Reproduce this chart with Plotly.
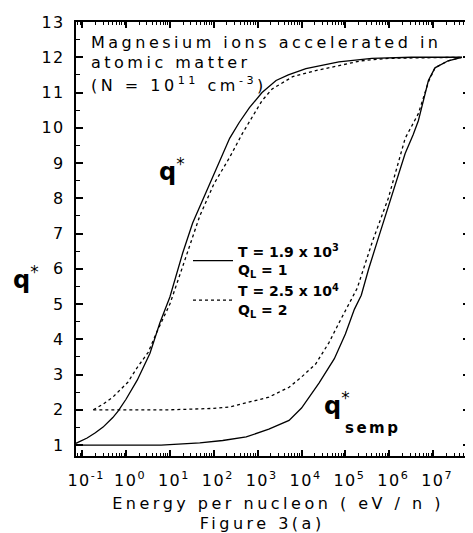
import plotly.graph_objects as go

# ---------------- data ----------------
# q* curves (left family)
energy_qstar_T1 = [0.072, 0.13, 0.2, 0.3, 0.5, 0.66, 1, 1.8, 3.5, 5.9, 10, 19.5, 33, 68, 135,
                   230, 380, 650, 1260, 2630, 5000, 12600, 71000, 4.0e5, 3.2e6, 4.5e7]
q_qstar_T1 = [1.05, 1.2, 1.35, 1.51, 1.78, 1.96, 2.3, 2.84, 3.6, 4.46, 5.2, 6.44, 7.3, 8.2, 9.07,
              9.7, 10.15, 10.57, 11.0, 11.34, 11.5, 11.68, 11.87, 11.97, 12.0, 12.0]

energy_qstar_T2 = [0.18, 0.3, 0.5, 0.8, 1.1, 1.8, 3.2, 5, 10, 20, 48, 100, 230, 450, 1260,
                   2140, 6300, 21000, 2.3e5, 1.0e6, 4.5e7]
q_qstar_T2 = [2.0, 2.16, 2.36, 2.6, 2.78, 3.2, 3.63, 4.2, 5.0, 6.1, 7.5, 8.4, 9.16, 9.84, 10.77,
              11.1, 11.45, 11.62, 11.9, 11.97, 12.0]

# q*_semp curves (right family)
energy_semp_T1 = [0.072, 6.3, 48, 160, 550, 1800, 5200, 1.0e4, 2.5e4, 5.6e4, 1.0e5, 1.6e5, 2.3e5,
                  3.4e5, 5.4e5, 1.1e6, 2.3e6, 3.5e6, 4.6e6, 7.8e6, 1.1e7, 2.2e7, 4.5e7]
q_semp_T1 = [1.0, 1.0, 1.06, 1.13, 1.23, 1.45, 1.7, 2.05, 2.76, 3.45, 4.15, 4.85, 5.25,
             6.0, 6.8, 8.0, 9.27, 9.8, 10.2, 11.34, 11.7, 11.9, 12.0]

energy_semp_T2 = [0.18, 10, 100, 230, 930, 1800, 5200, 1.0e4, 2.1e4, 4.2e4, 7.1e4, 1.07e5, 1.86e5,
                  4.2e5, 9.5e5, 2.3e6, 4.6e6, 7.8e6, 1.1e7, 2.2e7, 4.5e7]
q_semp_T2 = [2.0, 2.0, 2.04, 2.08, 2.27, 2.36, 2.64, 2.93, 3.3, 3.9, 4.46, 4.9, 5.45,
             6.8, 8.0, 9.7, 10.4, 11.3, 11.7, 11.9, 12.0]

legend_T1 = "T = 1.9 x 10<sup>3</sup><br>Q<sub>L</sub> = 1"
legend_T2 = "T = 2.5 x 10<sup>4</sup><br>Q<sub>L</sub> = 2"

x_major = [1e-1, 1e0, 1e1, 1e2, 1e3, 1e4, 1e5, 1e6, 1e7]
x_major_text = ["10<sup>-1</sup>", "10<sup>0</sup>", "10<sup>1</sup>", "10<sup>2</sup>",
                "10<sup>3</sup>", "10<sup>4</sup>", "10<sup>5</sup>", "10<sup>6</sup>",
                "10<sup>7</sup>"]
x_minor = [m * 10.0 ** e for e in range(-2, 8) for m in range(2, 10)]

FONT = "DejaVu Sans"

fig = go.Figure()
solid = dict(color="black", width=1.3)
dotted = dict(color="black", width=1.3, dash="3px,3px")

fig.add_trace(go.Scatter(x=energy_qstar_T1, y=q_qstar_T1, mode="lines", line=solid,
                         name=legend_T1))
fig.add_trace(go.Scatter(x=energy_qstar_T2, y=q_qstar_T2, mode="lines", line=dotted,
                         name=legend_T2))
fig.add_trace(go.Scatter(x=energy_semp_T1, y=q_semp_T1, mode="lines", line=solid,
                         showlegend=False))
fig.add_trace(go.Scatter(x=energy_semp_T2, y=q_semp_T2, mode="lines", line=dotted,
                         showlegend=False))

# the page body has an 8px margin: the figure starts at (8, 8) of the window
W, H = 465, 525
L, R, T, B = 68, 3, 14, 77
pw, ph = W - L - R, H - T - B
FX0, FY1 = 76, 456   # frame left / bottom in window pixels


def px(x):
    return (x - FX0) / pw


def py(y):
    return (FY1 - y) / ph


fig.update_layout(
    width=W, height=H, autosize=False,
    margin=dict(l=L, r=R, t=T, b=B, pad=0),
    paper_bgcolor="white", plot_bgcolor="white",
    font=dict(family=FONT, size=16, color="black"),
    showlegend=True,
    legend=dict(x=px(188), y=py(236), xanchor="left", yanchor="top",
                bgcolor="rgba(0,0,0,0)", itemwidth=40, tracegroupgap=0,
                font=dict(family=FONT, size=14, color="black", weight="bold")),
)

fig.update_xaxes(
    type="log", range=[-1.14, 7.84], automargin=False,
    tickmode="array", tickvals=x_major, ticktext=x_major_text,
    ticks="inside", ticklen=6, tickwidth=1.5, tickcolor="black",
    minor=dict(tickmode="array", tickvals=x_minor, ticks="inside", ticklen=3,
               tickwidth=1, tickcolor="black"),
    showline=True, linewidth=2, linecolor="black", mirror="ticks",
    showgrid=False, zeroline=False,
    tickfont=dict(family=FONT, size=16, color="black"),
    ticklabelshift=4, ticklabelstandoff=9,
)
fig.update_yaxes(
    range=[0.69, 13], tickmode="linear", tick0=0, dtick=1, automargin=False,
    ticks="inside", ticklen=7, tickwidth=1.5, tickcolor="black",
    minor=dict(dtick=0.5, ticks="inside", ticklen=4, tickwidth=1, tickcolor="black"),
    showline=True, linewidth=2, linecolor="black", mirror="ticks",
    showgrid=False, zeroline=False,
    tickfont=dict(family=FONT, size=16, color="black"),
    ticklabelstandoff=6,
)

ann = []
# header text
for txt, yy in [("Magnesium ions accelerated in", 42), ("atomic matter", 62),
                ("(N = 10<sup>11</sup> cm<sup>-3</sup>)", 84)]:
    ann.append(dict(text=txt, x=px(89), y=py(yy), xref="paper", yref="paper",
                    xanchor="left", yanchor="middle", align="left", showarrow=False,
                    font=dict(family=FONT, size=16, color="black")))

# curve labels
ann.append(dict(text="<b>q</b><sup>*</sup>", x=px(157), y=py(170), xref="paper", yref="paper",
                xanchor="left", yanchor="middle", showarrow=False,
                font=dict(family=FONT, size=24, color="black")))
ann.append(dict(text="<b>q</b><sup>*</sup>", x=px(322), y=py(404), xref="paper", yref="paper",
                xanchor="left", yanchor="middle", showarrow=False,
                font=dict(family=FONT, size=24, color="black")))
ann.append(dict(text="<b>semp</b>", x=px(343), y=py(428), xref="paper", yref="paper",
                xanchor="left", yanchor="middle", align="left", showarrow=False,
                font=dict(family=FONT, size=15, color="black")))
# y-axis title
ann.append(dict(text="<b>q</b><sup>*</sup>", x=px(11), y=py(278), xref="paper", yref="paper",
                xanchor="left", yanchor="middle", showarrow=False,
                font=dict(family=FONT, size=24, color="black")))
# x-axis title and caption
ann.append(dict(text="Energy per nucleon ( eV / n )", x=px(278), y=py(503), xref="paper",
                yref="paper", xanchor="center", yanchor="middle", showarrow=False,
                font=dict(family=FONT, size=16, color="black")))
ann.append(dict(text="Figure 3(a)", x=px(262), y=py(523), xref="paper",
                yref="paper", xanchor="center", yanchor="middle", showarrow=False,
                font=dict(family=FONT, size=16, color="black")))

fig.update_layout(annotations=ann)

# the reference typesetting is letter-spaced; reproduce it with CSS letter-spacing
post_js = """
var gd = document.getElementById('{plot_id}');
var anns = gd.querySelectorAll('.annotation');
[0, 1, 2, 7, 8].forEach(function(i){
  if (anns[i]) { anns[i].querySelectorAll('text').forEach(function(t){ t.style.letterSpacing = '3.5px'; }); }
});
if (anns[5]) { anns[5].querySelectorAll('text').forEach(function(t){ t.style.letterSpacing = '2.5px'; }); }
gd.querySelectorAll('.xtick text, .ytick text').forEach(function(t){ t.style.letterSpacing = '1.5px'; });
"""

fig.write_html("out.html", post_script=post_js)
